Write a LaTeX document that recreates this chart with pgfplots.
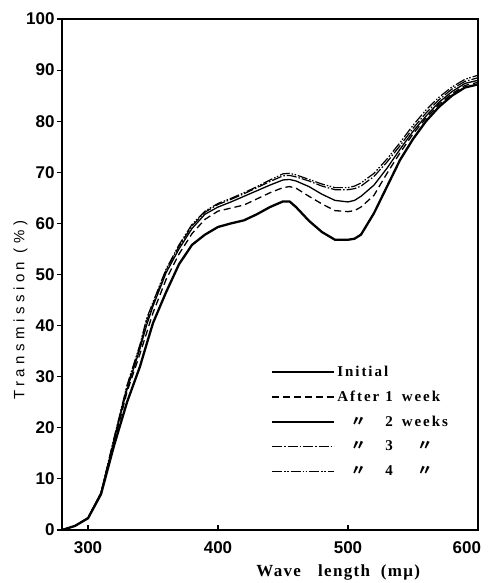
\documentclass[border=0pt]{standalone}
\usepackage{fontspec}
\usepackage{pgfplots}
\pgfplotsset{compat=1.18}
\setmainfont{Liberation Serif}
\newfontfamily\ticksf{Liberation Sans}
\newfontfamily\ylabsf[LetterSpace=30]{Liberation Sans}
\newfontfamily\legsf[LetterSpace=13]{Liberation Serif}
\newfontfamily\xlabsf[LetterSpace=8]{Liberation Serif}
\newfontfamily\cjk{Noto Sans CJK JP}
\newcommand\ditto[1]{\ooalign{\hphantom{#1}\cr\hfil{\cjk 〃}\hfil}}

\pgfplotstableread{
x     a     b     c     d     e
280   0.0   0.0   0.0   0.0   0.0
290   0.8   0.8   0.8   0.8   0.8
300   2.3   2.3   2.3   2.4   2.4
310   7.0   7.0   7.2   7.3   7.3
320  16.5  17.0  17.5  17.8  18.0
330  25.0  27.0  27.5  28.0  28.3
340  32.0  34.5  35.5  36.0  36.3
345  36.3  38.5  40.0  40.8  41.3
350  40.5  42.5  43.8  44.3  44.6
360  46.5  49.0  50.3  50.8  51.0
370  52.0  54.0  55.0  55.5  55.8
380  55.8  58.0  59.0  59.5  59.8
390  57.8  60.8  61.8  62.2  62.4
400  59.3  62.4  63.2  63.7  63.9
410  60.0  63.0  64.2  64.7  64.9
420  60.6  63.6  65.3  65.8  66.0
430  61.8  64.8  66.4  67.0  67.2
440  63.2  66.0  67.5  68.2  68.5
450  64.3  67.0  68.5  69.3  69.7
455  64.3  67.2  68.6  69.4  69.8
460  63.2  66.9  68.3  69.1  69.5
470  60.5  65.3  67.2  68.3  68.6
480  58.3  63.8  65.7  67.3  67.7
490  56.8  62.5  64.5  66.6  67.0
500  56.8  62.3  64.2  66.6  67.0
505  57.0  62.5  64.5  66.8  67.3
510  57.8  63.2  65.3  67.3  67.9
520  62.0  65.5  67.5  69.2  69.8
530  67.2  69.8  70.8  72.0  72.6
540  72.4  73.8  74.5  75.2  75.8
550  76.5  77.5  78.0  78.6  79.2
560  80.0  80.6  81.0  81.6  82.2
570  82.8  83.3  83.7  84.2  84.7
580  85.0  85.4  85.8  86.3  86.7
590  86.6  87.0  87.4  87.8  88.2
600  87.2  87.6  88.0  88.5  89.0
}\trans

\begin{document}
\begin{tikzpicture}
\begin{axis}[
    name=ax,
    scale only axis,
    width=416pt, height=511pt,
    xmin=280, xmax=600, ymin=0, ymax=100,
    xtick={300,400,500,600},
    xticklabels={300,400,500,{\makebox[6pt][r]{600}}},
    ytick={0,10,...,100},
    xtick pos=bottom, ytick pos=left,
    tick align=inside,
    major tick length=5pt,
    y tick style={xshift=-5pt},
    axis line style={line width=1.6pt},
    tick style={line width=1.1pt, black},
    /pgf/number format/assume math mode=true,
    ticklabel style={font=\ticksf\bfseries\fontsize{17}{17}\selectfont},
    yticklabel style={xshift=-4pt},
    xticklabel style={yshift=-8pt},
    xlabel={Wave\hspace{1em}length\hspace{0.3em} (mμ)},
    xlabel style={font=\xlabsf\bfseries\fontsize{17}{17}\selectfont, at={(axis description cs:0.664,0)}, anchor=center, yshift=-42pt},
    ylabel={Transmission (\%)},
    ylabel style={font=\ylabsf\fontsize{15}{15}\selectfont, at={(axis description cs:-0.1,0.43)}, anchor=center},
    legend style={draw=none, fill=none, at={(rel axis cs:0.502,0.325)}, anchor=north west,
        font=\legsf\bfseries\fontsize{15}{15}\selectfont, row sep=9pt, inner sep=0pt},
    legend cell align=left,
    legend image code/.code={\draw[#1] (0pt,0pt) -- (54pt,0pt); \path (0pt,0pt) -- (62pt,0pt);},
]
\addplot[black, line width=2.3pt] table[x=x, y=a] {\trans};
\addlegendentry{Initial}
\addplot[black, line width=1.3pt, dash pattern=on 7pt off 4pt] table[x=x, y=b] {\trans};
\addlegendentry{After\hspace{0.4em}1\hspace{0.6em}week}
\addplot[black, line width=1.3pt] table[x=x, y=c] {\trans};
\addlegendentry{\ditto{After}\hspace{0.4em}2\hspace{0.6em}weeks}
\addplot[black, line width=1.2pt, dash pattern=on 10pt off 2pt on 1.5pt off 2pt] table[x=x, y=d] {\trans};
\addlegendentry{\ditto{After}\hspace{0.4em}3\hspace{0.6em}\ditto{weeks}}
\addplot[black, line width=1.2pt, dash pattern=on 10pt off 2pt on 1.5pt off 1.5pt on 1.5pt off 2pt] table[x=x, y=e] {\trans};
\addlegendentry{\ditto{After}\hspace{0.4em}4\hspace{0.6em}\ditto{weeks}}
\end{axis}
\pgfresetboundingbox
\path ([shift={(-62pt,-53pt)}]ax.south west) rectangle ([shift={(9pt,19pt)}]ax.north east);
\end{tikzpicture}
\end{document}
